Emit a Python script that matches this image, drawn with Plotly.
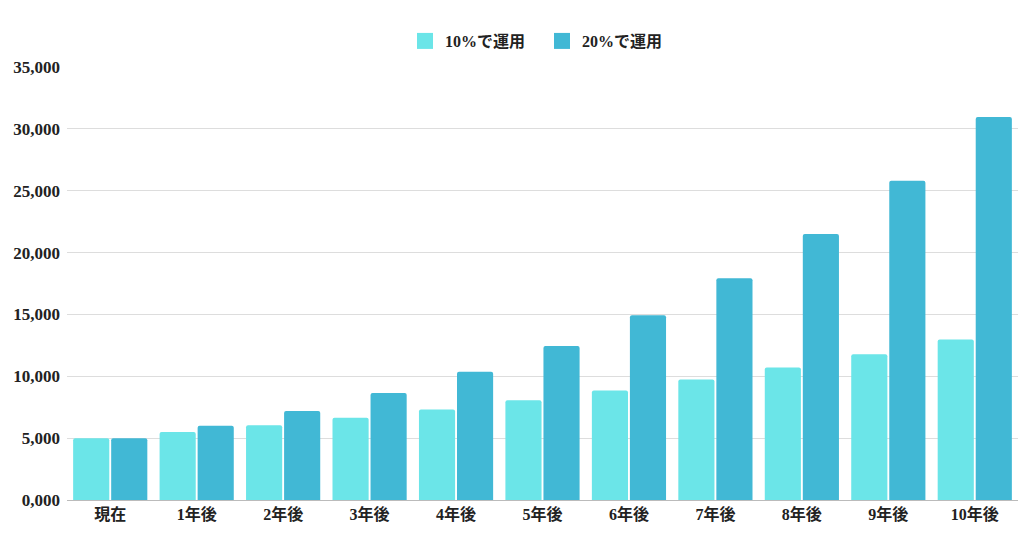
import plotly.graph_objects as go

categories = ["現在", "1年後", "2年後", "3年後", "4年後", "5年後", "6年後", "7年後", "8年後", "9年後", "10年後"]
series_10 = [5000, 5500, 6050, 6655, 7320, 8053, 8858, 9744, 10718, 11790, 12969]
series_20 = [5000, 6000, 7200, 8640, 10368, 12441, 14929, 17915, 21499, 25798, 30958]
names = ["10%で運用", "20%で運用"]
colors = ["#6BE5E8", "#41B8D5"]
tick_vals = [0, 5000, 10000, 15000, 20000, 25000, 30000, 35000]
tick_text = ["0,000", "5,000", "10,000", "15,000", "20,000", "25,000", "30,000", "35,000"]

FONT = "Liberation Serif, DejaVu Serif, Noto Sans CJK JP, serif"
yfont = dict(family=FONT, size=17, color="#222", weight="bold")
xfont = dict(family=FONT, size=16, color="#222", weight="bold")
lfont = dict(family=FONT, size=16, color="#222", weight="bold")

fig = go.Figure()
for vals, nm, col in zip([series_10, series_20], names, colors):
    fig.add_trace(go.Bar(x=categories, y=vals, name=nm, showlegend=False,
                         marker=dict(color=col, cornerradius=2, line=dict(width=0))))
for nm, col in zip(names, colors):
    fig.add_trace(go.Scatter(x=[None], y=[None], mode="markers", name=nm + "   ",
                             marker=dict(symbol="square", size=18, color=col)))

fig.update_layout(
    width=1024, height=538,
    margin=dict(l=67, r=6, t=67, b=38),
    paper_bgcolor="white", plot_bgcolor="white",
    barmode="group", bargap=0.12, bargroupgap=0.05,
    font=xfont,
    legend=dict(orientation="h", x=0.5, xanchor="center", y=1.06, yanchor="middle",
                font=lfont, traceorder="normal", itemwidth=30),
    xaxis=dict(showgrid=False, showline=True, linecolor="#bbbbbb", linewidth=1,
               tickfont=xfont, ticks=""),
    yaxis=dict(range=[0, 35000], tickvals=tick_vals, ticktext=tick_text,
               showgrid=True, gridcolor="#dddddd", gridwidth=1, zeroline=False,
               tickfont=yfont, ticks="", ticklabelstandoff=6),
)
fig.write_html("out.html")
